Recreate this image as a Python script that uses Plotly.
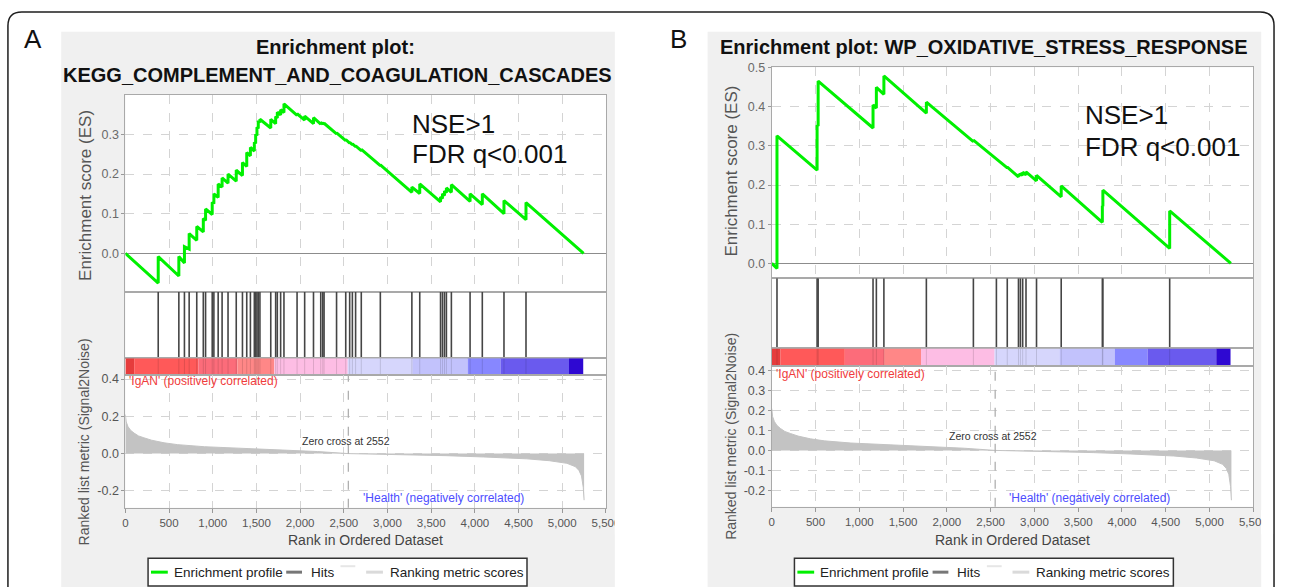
import plotly.graph_objects as go

W, H = 1290, 587

# ---------------- data ----------------
# ranked list metric (shared by both panels: same ranked dataset)
metric_rank = [0, 10, 30, 60, 100, 150, 212, 300, 443, 600, 904, 1300, 1826, 2200, 2552,
               3000, 3670, 4100, 4592, 4850, 5053, 5150, 5191, 5220, 5240, 5250]
metric_value = [0.21, 0.17, 0.145, 0.125, 0.11, 0.095, 0.085, 0.072, 0.058, 0.048, 0.037, 0.030,
                0.020, 0.011, 0.0, -0.004, -0.011, -0.018, -0.028, -0.038, -0.052, -0.070,
                -0.090, -0.120, -0.180, -0.250]
zero_cross = 2552

# colour strip segments of the ranked list
bar_start = [0, 101, 835, 1283, 1705, 2545, 3285, 3918, 4293, 5077]
bar_end = [101, 835, 1283, 1705, 2545, 3285, 3918, 4293, 5077, 5240]
bar_color = ["#e63c3c", "#ff5959", "#fc6c7a", "#ff8787", "#fdbde4",
             "#d6d6fc", "#c2c2fc", "#8787ff", "#6a5aee", "#2e08d2"]

rank_ticks = [0, 500, 1000, 1500, 2000, 2500, 3000, 3500, 4000, 4500, 5000, 5500]
rank_tick_text = ["0", "500", "1,000", "1,500", "2,000", "2,500", "3,000", "3,500",
                  "4,000", "4,500", "5,000", "5,500"]

# Panel A: KEGG_COMPLEMENT_AND_COAGULATION_CASCADES
hits_a = [376, 612, 676, 730, 817, 892, 918, 994, 1013, 1062, 1107, 1175, 1269, 1340, 1389,
          1431, 1476, 1491, 1506, 1521, 1540, 1664, 1720, 1739, 1777, 1815, 1965, 2052, 2153,
          2236, 2259, 2274, 2417, 2522, 2567, 2598, 2635, 2700, 2918, 3279, 3369, 3607, 3629,
          3652, 3674, 3731, 3945, 4085, 4333, 4585]
es_a_before = [-0.075, -0.057, -0.024, 0.011, 0.033, 0.054, 0.083, 0.098, 0.125, 0.141, 0.167,
               0.177, 0.182, 0.196, 0.219, 0.246, 0.258, 0.277, 0.297, 0.315, 0.330, 0.316,
               0.327, 0.341, 0.349, 0.355, 0.348, 0.336, 0.327, 0.326, 0.326, 0.326, 0.301,
               0.284, 0.278, 0.274, 0.269, 0.259, 0.221, 0.154, 0.151, 0.130, 0.138, 0.146,
               0.153, 0.154, 0.131, 0.123, 0.100, 0.085]
es_a_after = [-0.008, -0.008, 0.017, 0.050, 0.068, 0.088, 0.112, 0.129, 0.150, 0.175, 0.190,
              0.200, 0.210, 0.229, 0.254, 0.267, 0.280, 0.300, 0.318, 0.334, 0.338, 0.338,
              0.345, 0.356, 0.362, 0.377, 0.352, 0.346, 0.342, 0.330, 0.329, 0.328, 0.304,
              0.287, 0.280, 0.276, 0.271, 0.262, 0.223, 0.167, 0.175, 0.142, 0.150, 0.157,
              0.165, 0.173, 0.150, 0.150, 0.133, 0.128]
es_a_end = 5244
es_a_ticks = [0.0, 0.1, 0.2, 0.3]
es_a_tick_text = ["0.0", "0.1", "0.2", "0.3"]
met_a_ticks = [-0.2, 0.0, 0.2, 0.4]
met_a_tick_text = ["-0.2", "0.0", "0.2", "0.4"]

# Panel B: WP_OXIDATIVE_STRESS_RESPONSE
hits_b = [60, 518, 530, 1157, 1195, 1281, 1766, 2303, 2566, 2690, 2818, 2840, 2866, 2904,
          3024, 3306, 3776, 3782, 4545]
es_b_before = [-0.013, 0.238, 0.351, 0.346, 0.397, 0.432, 0.384, 0.311, 0.266, 0.244, 0.221,
               0.224, 0.225, 0.226, 0.211, 0.170, 0.105, 0.146, 0.038]
es_b_after = [0.326, 0.353, 0.466, 0.405, 0.450, 0.479, 0.412, 0.315, 0.268, 0.246, 0.228,
              0.230, 0.233, 0.234, 0.225, 0.198, 0.147, 0.187, 0.134]
es_b_end = 5244
es_b_ticks = [0.0, 0.1, 0.2, 0.3, 0.4, 0.5]
es_b_tick_text = ["0.0", "0.1", "0.2", "0.3", "0.4", "0.5"]
met_b_ticks = [-0.2, -0.1, 0.0, 0.1, 0.2, 0.3, 0.4]
met_b_tick_text = ["-0.2", "-0.1", "0.0", "0.1", "0.2", "0.3", "0.4"]

# ---------------- layout helpers ----------------
FONT = "Liberation Sans"


def fx(x):
    return x / W


def fy(y):
    return 1 - y / H


panels = [
    dict(letter="A", dx=0, x0=124, x1=611, es_top=90, es_bot=289, hits_bot=356, bar_bot=373,
         met_bot=507, es_range=[-0.0975, 0.399], met_range=[-0.291, 0.421],
         hits=hits_a, before=es_a_before, after=es_a_after, es_end=es_a_end,
         es_ticks=es_a_ticks, es_tt=es_a_tick_text, met_ticks=met_a_ticks, met_tt=met_a_tick_text,
         titles=[("Enrichment plot:", 337, 41), ("KEGG_COMPLEMENT_AND_COAGULATION_CASCADES", 339, 70)],
         nse=(412, 119, 150), es_title=(83, 191), met_title=(82, 440),
         igan=(126, 379), health=(530, 497), zc=(348, 439)),
    dict(letter="B", dx=655, x0=779, x1=1267, es_top=62, es_bot=275, hits_bot=346, bar_bot=364,
         met_bot=506, es_range=[-0.038, 0.501], met_range=[-0.283, 0.422],
         hits=hits_b, before=es_b_before, after=es_b_after, es_end=es_b_end,
         es_ticks=es_b_ticks, es_tt=es_b_tick_text, met_ticks=met_b_ticks, met_tt=met_b_tick_text,
         titles=[("Enrichment plot: WP_OXIDATIVE_STRESS_RESPONSE", 994, 41)],
         nse=(1094, 110, 142), es_title=(738, 167), met_title=(737, 435),
         igan=(781, 372), health=(1185, 497), zc=(1003, 434)),
]

fig = go.Figure()
layout = dict(width=W, height=H, margin=dict(l=0, r=0, t=0, b=0), autosize=False,
              paper_bgcolor="white", plot_bgcolor="white", showlegend=False,
              barmode="overlay", hovermode=False)
shapes = []
annotations = []

GRID = "#d4d4d4"
BORDER = "#a9a9a9"

# outer rounded frame
r = 14
L, T, R, B = 5, 6, 1288, 640
frame_path = (f"M {fx(L)},{fy(B)} L {fx(L)},{fy(T + r)} Q {fx(L)},{fy(T)} {fx(L + r)},{fy(T)} "
              f"L {fx(R - r)},{fy(T)} Q {fx(R)},{fy(T)} {fx(R)},{fy(T + r)} L {fx(R)},{fy(B)}")
shapes.append(dict(type="path", xref="paper", yref="paper", path=frame_path,
                   line=dict(color="#1e1e1e", width=1.5), fillcolor="rgba(0,0,0,0)", layer="below"))


def axn(n):
    return "" if n == 1 else str(n)


for i, p in enumerate(panels):
    dx = p["dx"]
    n_es, n_hit, n_bar, n_met = 4 * i + 1, 4 * i + 2, 4 * i + 3, 4 * i + 4
    xdom = [fx(p["x0"]), fx(p["x1"])]

    # grey panel background and white plot areas
    shapes.append(dict(type="rect", xref="paper", yref="paper", x0=fx(59 + dx), x1=fx(620 + dx),
                       y0=fy(640), y1=fy(26), fillcolor="#f0f0f0", line=dict(width=0), layer="below"))
    shapes.append(dict(type="rect", xref="paper", yref="paper", x0=xdom[0], x1=xdom[1],
                       y0=fy(p["met_bot"]), y1=fy(p["es_top"]), fillcolor="white",
                       line=dict(width=0), layer="below"))

    common_x = dict(domain=xdom, range=[0, 5500], showline=True, mirror=True, linecolor=BORDER,
                    linewidth=1, zeroline=False, fixedrange=True)
    layout["xaxis" + axn(n_es)] = dict(common_x, anchor="y" + axn(n_es), showgrid=True,
                                       gridcolor=GRID, griddash="dash", tickvals=rank_ticks,
                                       showticklabels=False, ticks="")
    layout["xaxis" + axn(n_hit)] = dict(common_x, anchor="y" + axn(n_hit), showgrid=False,
                                        showticklabels=False, ticks="")
    layout["xaxis" + axn(n_bar)] = dict(common_x, anchor="y" + axn(n_bar), showgrid=False,
                                        showticklabels=False, ticks="")
    layout["xaxis" + axn(n_met)] = dict(common_x, anchor="y" + axn(n_met), showgrid=True,
                                        gridcolor=GRID, griddash="dash", tickvals=rank_ticks,
                                        ticktext=rank_tick_text, ticks="outside", ticklen=4,
                                        tickcolor="#999", tickfont=dict(family=FONT, size=11.5, color="#555"))

    common_y = dict(showline=True, mirror=True, linecolor=BORDER, linewidth=1, fixedrange=True)
    layout["yaxis" + axn(n_es)] = dict(common_y, anchor="x" + axn(n_es),
                                       domain=[fy(p["es_bot"]), fy(p["es_top"])], range=p["es_range"],
                                       showgrid=True, gridcolor=GRID, griddash="dash",
                                       tickvals=p["es_ticks"], ticktext=p["es_tt"], ticks="outside",
                                       ticklen=3, tickcolor="#999",
                                       tickfont=dict(family=FONT, size=12.5, color="#6a6a6a"),
                                       zeroline=True, zerolinecolor="#8c8c8c", zerolinewidth=1)
    layout["yaxis" + axn(n_hit)] = dict(common_y, anchor="x" + axn(n_hit),
                                        domain=[fy(p["hits_bot"]), fy(p["es_bot"])], range=[0, 1],
                                        showgrid=False, showticklabels=False, ticks="", zeroline=False)
    layout["yaxis" + axn(n_bar)] = dict(common_y, anchor="x" + axn(n_bar),
                                        domain=[fy(p["bar_bot"]), fy(p["hits_bot"])], range=[-0.5, 0.5],
                                        showgrid=False, showticklabels=False, ticks="", zeroline=False)
    layout["yaxis" + axn(n_met)] = dict(common_y, anchor="x" + axn(n_met),
                                        domain=[fy(p["met_bot"]), fy(p["bar_bot"])], range=p["met_range"],
                                        showgrid=True, gridcolor=GRID, griddash="dash",
                                        tickvals=p["met_ticks"], ticktext=p["met_tt"], ticks="outside",
                                        ticklen=3, tickcolor="#999",
                                        tickfont=dict(family=FONT, size=12.5, color="#555"),
                                        zeroline=False)

    # --- traces ---
    es_x, es_y = [0], [0.0]
    for h, b, a in zip(p["hits"], p["before"], p["after"]):
        es_x += [h, h]
        es_y += [b, a]
    es_x.append(p["es_end"])
    es_y.append(0.0)
    fig.add_trace(go.Scatter(x=es_x, y=es_y, mode="lines", line=dict(color="#00f000", width=3),
                             xaxis="x" + axn(n_es), yaxis="y" + axn(n_es)))

    hx, hy, fhy = [], [], []
    for h in p["hits"]:
        hx += [h, h, None]
        hy += [0, 1, None]
        fhy += [-0.5, 0.5, None]
    fig.add_trace(go.Scatter(x=hx, y=hy, mode="lines", line=dict(color="#454545", width=1.6),
                             xaxis="x" + axn(n_hit), yaxis="y" + axn(n_hit)))

    fig.add_trace(go.Bar(y=[0] * len(bar_start), x=[e - s for s, e in zip(bar_start, bar_end)],
                         base=bar_start, orientation="h", width=1,
                         marker=dict(color=bar_color, line=dict(width=0)),
                         xaxis="x" + axn(n_bar), yaxis="y" + axn(n_bar)))
    fig.add_trace(go.Scatter(x=hx, y=fhy, mode="lines", line=dict(color="rgba(0,0,0,0.13)", width=1),
                             xaxis="x" + axn(n_bar), yaxis="y" + axn(n_bar)))

    fig.add_trace(go.Scatter(x=metric_rank, y=metric_value, mode="lines", fill="tozeroy",
                             fillcolor="#c3c3c3", line=dict(color="#c3c3c3", width=1),
                             xaxis="x" + axn(n_met), yaxis="y" + axn(n_met)))

    shapes.append(dict(type="line", xref="x" + axn(n_met), yref="y" + axn(n_met) + " domain",
                       x0=zero_cross, x1=zero_cross, y0=0, y1=1,
                       line=dict(color="#b0b0b0", width=1.3, dash="dash"), layer="above"))

    # clip the last tick label at the grey panel edge
    shapes.append(dict(type="rect", xref="paper", yref="paper", x0=fx(620 + dx), x1=fx(640 + dx if i == 0 else 1287),
                       y0=fy(534), y1=fy(509), fillcolor="white", line=dict(width=0), layer="above"))

    # --- texts ---
    annotations.append(dict(text=p["letter"], x=fx(30 + dx), y=fy(33), xref="paper", yref="paper",
                            showarrow=False, font=dict(family=FONT, size=26, color="#111"),
                            xanchor="center", yanchor="middle"))
    for txt, tx, ty in p["titles"]:
        annotations.append(dict(text="<b>" + txt + "</b>", x=fx(tx), y=fy(ty), xref="paper", yref="paper",
                                showarrow=False, font=dict(family=FONT, size=20, color="#111"),
                                xanchor="center", yanchor="middle"))
    nx, ny1, ny2 = p["nse"]
    annotations.append(dict(text="NSE>1", x=fx(nx), y=fy(ny1), xref="paper", yref="paper",
                            showarrow=False, font=dict(family=FONT, size=26, color="#111"),
                            xanchor="left", yanchor="middle"))
    annotations.append(dict(text="FDR q<0.001", x=fx(nx), y=fy(ny2), xref="paper", yref="paper",
                            showarrow=False, font=dict(family=FONT, size=26, color="#111"),
                            xanchor="left", yanchor="middle"))
    ex, ey = p["es_title"]
    annotations.append(dict(text="Enrichment score (ES)", x=fx(ex), y=fy(ey), xref="paper", yref="paper",
                            showarrow=False, textangle=-90, font=dict(family=FONT, size=17, color="#555"),
                            xanchor="center", yanchor="middle"))
    mx, my = p["met_title"]
    annotations.append(dict(text="Ranked list metric (Signal2Noise)", x=fx(mx), y=fy(my), xref="paper",
                            yref="paper", showarrow=False, textangle=-90,
                            font=dict(family=FONT, size=14, color="#555"), xanchor="center", yanchor="middle"))
    annotations.append(dict(text="Rank in Ordered Dataset", x=fx((p["x0"] + p["x1"]) / 2), y=fy(540),
                            xref="paper", yref="paper", showarrow=False,
                            font=dict(family=FONT, size=14, color="#444"), xanchor="center", yanchor="middle"))
    ix, iy = p["igan"]
    annotations.append(dict(text="'IgAN' (positively correlated)", x=fx(ix), y=fy(iy), xref="paper",
                            yref="paper", showarrow=False, font=dict(family=FONT, size=12, color="#f03c3c"),
                            xanchor="left", yanchor="middle"))
    hx_, hy_ = p["health"]
    annotations.append(dict(text="'Health' (negatively correlated)", x=fx(hx_), y=fy(hy_), xref="paper",
                            yref="paper", showarrow=False, font=dict(family=FONT, size=12, color="#4d4dff"),
                            xanchor="right", yanchor="middle"))
    zx, zy = p["zc"]
    annotations.append(dict(text="Zero cross at 2552", x=fx(zx), y=fy(zy), xref="paper", yref="paper",
                            showarrow=False, font=dict(family=FONT, size=10.5, color="#333"),
                            xanchor="center", yanchor="middle"))

    # --- legend box ---
    shapes.append(dict(type="rect", xref="paper", yref="paper", x0=fx(147 + dx), x1=fx(531 + dx),
                       y0=fy(586), y1=fy(558), fillcolor="white", line=dict(color="#333", width=1.5),
                       layer="above"))
    for (lx0, lx1, ly, col, lw) in [(150, 167, 572, "#00f000", 3), (287, 303, 572, "#777", 3),
                                    (342, 357, 566, "#e6e6e6", 2), (368, 385, 572, "#dadada", 3)]:
        shapes.append(dict(type="line", xref="paper", yref="paper", x0=fx(lx0 + dx), x1=fx(lx1 + dx),
                           y0=fy(ly), y1=fy(ly), line=dict(color=col, width=lw), layer="above"))
    for (txt, tx) in [("Enrichment profile", 171), ("Hits", 310), ("Ranking metric scores", 390)]:
        annotations.append(dict(text=txt, x=fx(tx + dx), y=fy(572), xref="paper", yref="paper",
                                showarrow=False, font=dict(family=FONT, size=13.5, color="#222"),
                                xanchor="left", yanchor="middle"))

layout["shapes"] = shapes
layout["annotations"] = annotations
fig.update_layout(**layout)
fig.write_html("out.html")
